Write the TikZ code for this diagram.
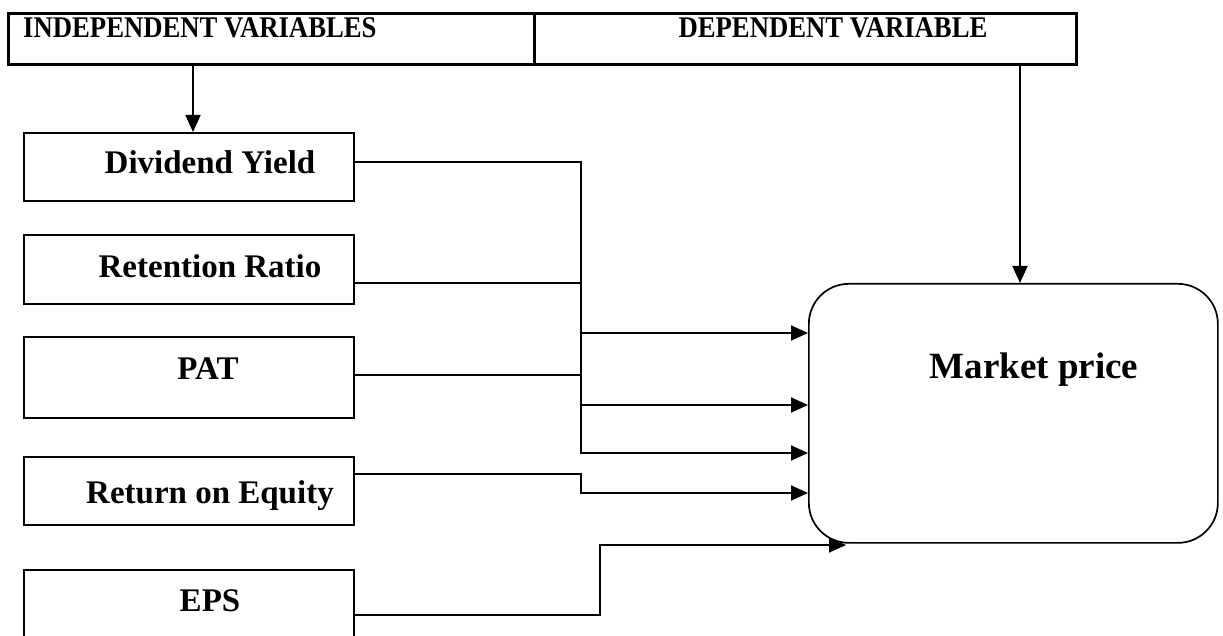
\documentclass[tikz,border=0pt]{standalone}
\usepackage{fontspec}
\setmainfont{Liberation Serif}
\newfontfamily\hdrfont[FakeStretch=0.89]{Liberation Serif}
\usetikzlibrary{arrows.meta}
\begin{document}
\begin{tikzpicture}[x=1pt,y=-1pt,
  hdrbox/.style={draw,line width=2.6pt,rectangle,inner sep=0pt,anchor=north west},
  varbox/.style={draw,line width=1.7pt,rectangle,inner sep=0pt,anchor=north west,minimum width=330pt},
  hdrtxt/.style={font=\hdrfont\fontsize{30}{33}\selectfont\bfseries,inner sep=0pt},
  vartxt/.style={font=\fontsize{33}{36}\selectfont\bfseries,inner sep=0pt,anchor=base},
  conn/.style={line width=1.7pt},
  arr/.style={line width=1.7pt,-{Triangle[length=17pt,width=15pt]}}]
\useasboundingbox (0,0) rectangle (1223,636);
% header
\node[hdrbox,minimum width=526pt,minimum height=51pt] (indep) at (7,12) {};
\node[hdrbox,minimum width=542pt,minimum height=51pt] (dep) at (533,12) {};
\node[hdrtxt,anchor=base west] (indeptxt) at (23,38) {INDEPENDENT VARIABLES};
\node[hdrtxt,anchor=base] (deptxt) at (833,38) {DEPENDENT VARIABLE};
% variable boxes
\node[varbox,minimum height=68pt] (dy) at (23,132) {};
\node[varbox,minimum height=69pt] (rr) at (23,234) {};
\node[varbox,minimum height=81pt] (pat) at (23,336) {};
\node[varbox,minimum height=68pt] (roe) at (23,456) {};
\node[varbox,minimum height=90pt] (eps) at (23,569) {};
\node[vartxt] (dytxt) at (210,174) {Dividend Yield};
\node[vartxt] (rrtxt) at (210,278) {Retention Ratio};
\node[vartxt] (pattxt) at (208,379) {PAT};
\node[vartxt] (roetxt) at (210,503) {Return on Equity};
\node[vartxt] (epstxt) at (210,611) {EPS};
% market price
\node[draw,line width=1.7pt,rectangle,rounded corners=40pt,inner sep=0pt,anchor=north west,
  minimum width=409pt,minimum height=259pt] (mp) at (808,283) {};
\node[font=\fontsize{37}{40}\selectfont\bfseries,inner sep=0pt,anchor=base] (mptxt) at (1034,378) {Market price};
% coordinates
\coordinate (t1) at (193,0);
\coordinate (t2) at (1020,0);
\coordinate (j1) at (581,162);
\coordinate (j2) at (581,283);
\coordinate (j3) at (581,375);
\coordinate (j4) at (581,474);
\coordinate (j5) at (600,615);
\coordinate (a1) at (581,333);
\coordinate (a2) at (581,405);
\coordinate (a3) at (581,453);
\coordinate (a4) at (581,493);
\coordinate (e5) at (846,545);
% connectors
\draw[arr] (indep.south -| t1) -- (dy.north -| t1);
\draw[arr] (dep.south -| t2) -- (mp.north -| t2);
\draw[arr] (dy.east |- j1) -- (j1) |- (mp.west |- a3);
\draw[conn] (rr.east |- j2) -- (j2);
\draw[arr] (a1) -- (mp.west |- a1);
\draw[conn] (pat.east |- j3) -- (j3);
\draw[arr] (a2) -- (mp.west |- a2);
\draw[arr] (roe.east |- j4) -- (j4) |- (mp.west |- a4);
\draw[arr] (eps.east |- j5) -- (j5) |- (e5);
\end{tikzpicture}
\end{document}
